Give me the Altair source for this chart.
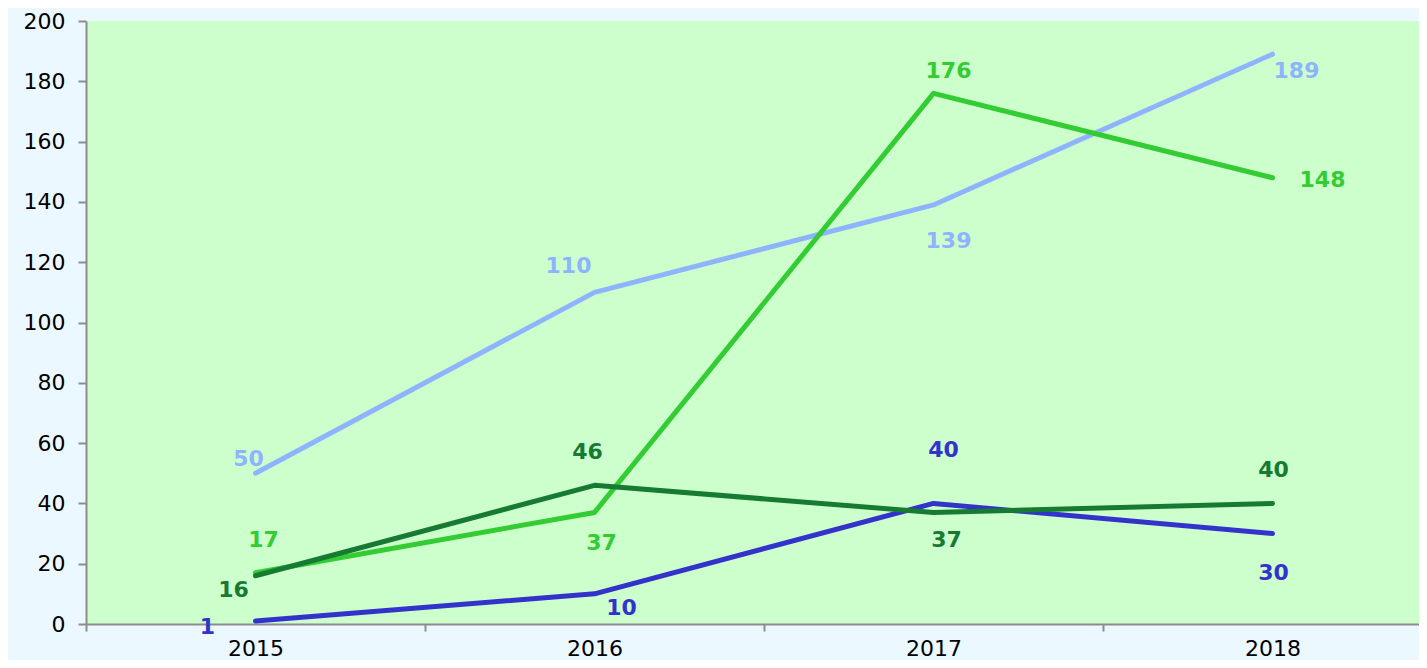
import altair as alt
import pandas as pd

years = ["2015", "2016", "2017", "2018"]
series_names = ["Series 1", "Series 2", "Series 3", "Series 4"]
series_colors = ["#8FB4FF", "#33CC33", "#3333CC", "#177A33"]
s1 = [50, 110, 139, 189]
s2 = [17, 37, 176, 148]
s3 = [1, 10, 40, 30]
s4 = [16, 46, 37, 40]
y_ticks = [0, 20, 40, 60, 80, 100, 120, 140, 160, 180, 200]

# label offsets (styling, pixels) per series per year
label_offsets = [
    [(-7, -14), (-26, -26), (15, 36), (24, 17)],
    [(8, -33), (7, 31), (15, -22), (50, 2)],
    [(-48, 6), (27, 14), (10, -53), (1, 39)],
    [(-22, 14), (-7, -33), (13, 28), (1, -33)],
]

rows = []
for name, vals in zip(series_names, [s1, s2, s3, s4]):
    for yr, v in zip(years, vals):
        rows.append({"year": yr, "value": v, "series": name})
df = pd.DataFrame(rows)

FONT = "DejaVu Sans"

x_enc = alt.X(
    "year:O",
    scale=alt.Scale(type="band", domain=years, range=[0, 1356], paddingInner=0, paddingOuter=0),
    axis=alt.Axis(
        title=None, labelAngle=0, tickBand="extent", domainColor="#8C8C8C", domainWidth=2,
        tickColor="#8C8C8C", tickWidth=2, tickSize=7, labelFontSize=22, labelColor="#000000",
        labelFont=FONT, labelPadding=7, grid=False,
    ),
)
y_enc = alt.Y(
    "value:Q",
    scale=alt.Scale(domain=[0, 200], nice=False, zero=True),
    axis=alt.Axis(
        title=None, values=y_ticks, domainColor="#8C8C8C", domainWidth=2, tickColor="#8C8C8C",
        tickWidth=2, tickSize=8, labelFontSize=22, labelColor="#000000", labelFont=FONT,
        labelPadding=13, grid=False,
    ),
)
color_enc = alt.Color(
    "series:N", scale=alt.Scale(domain=series_names, range=series_colors), legend=None
)

base = alt.Chart(df)
lines = base.mark_line(strokeWidth=5, strokeCap="round", strokeJoin="round").encode(
    x=x_enc, y=y_enc, color=color_enc, order=alt.Order("year:O")
)

layers = [lines]
for si, name in enumerate(series_names):
    for yi, yr in enumerate(years):
        dx, dy = label_offsets[si][yi]
        t = base.transform_filter(
            (alt.datum.series == name) & (alt.datum.year == yr)
        ).mark_text(
            dx=dx, dy=dy, fontSize=22, fontWeight="bold", font=FONT,
            align="center", baseline="middle",
        ).encode(
            x=alt.X("year:O"), y=alt.Y("value:Q"), text="value:Q", color=color_enc
        )
        layers.append(t)

chart = alt.layer(*layers).properties(
    width=1333,
    height=603,
    autosize=alt.AutoSizeParams(type="none"),
    padding={"left": 78, "top": 13, "right": 0, "bottom": 36},
    background="#ECF8FF",
).configure_view(fill="#CCFFCC", stroke=None)

chart.save("out.html", embed_options={"renderer": "svg", "actions": False})
